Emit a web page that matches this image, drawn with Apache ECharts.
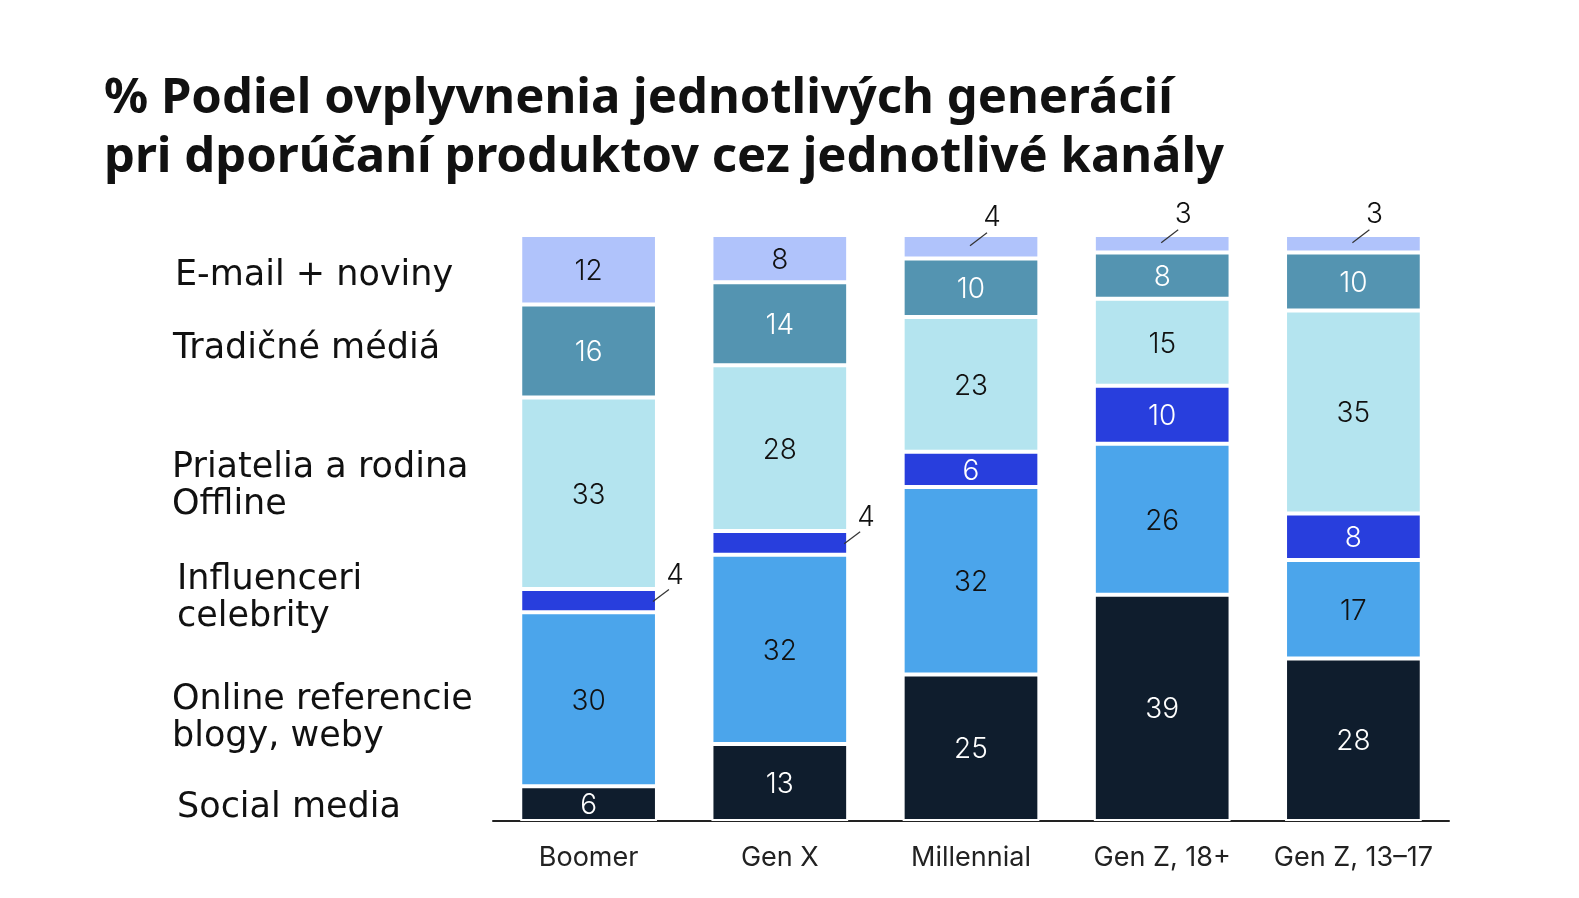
<!DOCTYPE html>
<html>
<head>
<meta charset="utf-8">
<script src="https://cdn.jsdelivr.net/npm/echarts@6/dist/echarts.min.js"></script>
<style>
html,body{margin:0;padding:0;background:#fff;}
#chart{width:1579px;height:898px;}
</style>
</head>
<body>
<div id="chart"></div>
<script>
// ---- Data ----
const categories = ['Boomer', 'Gen X', 'Millennial', 'Gen Z, 18+', 'Gen Z, 13\u201317'];
const channelNames = ['Social media', 'Online referencie', 'Influenceri', 'Priatelia a rodina', 'Tradičné médiá', 'E-mail + noviny'];
const socialMedia   = [6, 13, 25, 39, 28];
const onlineRef     = [30, 32, 32, 26, 17];
const influenceri   = [4, 4, 6, 10, 8];
const priatelia     = [33, 28, 23, 15, 35];
const tradicne      = [16, 14, 10, 8, 10];
const emailNoviny   = [12, 8, 4, 3, 3];
const legendLabels  = ['E-mail + noviny', 'Tradičné médiá', 'Priatelia a rodina\nOffline', 'Influenceri\ncelebrity', 'Online referencie\nblogy, weby', 'Social media'];
const titleText = '% Podiel ovplyvnenia jednotlivých generácií\npri dporúčaní produktov cez jednotlivé kanály';

const seriesValues = [socialMedia, onlineRef, influenceri, priatelia, tradicne, emailNoviny];
const colors = ['#0f1d2d', '#4ba5eb', '#283edd', '#b4e4ef', '#5494b1', '#b0c3fb'];
const labelColors = ['#ffffff', '#111111', '#ffffff', '#111111', '#ffffff', '#111111'];

// totals per category (bars are drawn as 100% stacks)
const totals = categories.map((c, i) => seriesValues.reduce((s, arr) => s + arr[i], 0));
const normalized = seriesValues.map(arr => arr.map((v, i) => v * 100 / totals[i]));

// small segments get an outside annotation
const SMALL = 5;
const annotations = [];
seriesValues.forEach((arr, si) => {
  arr.forEach((v, ci) => {
    if (v < SMALL) {
      let lo = 0;
      for (let k = 0; k < si; k++) lo += normalized[k][ci];
      const hi = lo + normalized[si][ci];
      annotations.push([ci, lo, hi, v, si === seriesValues.length - 1 ? 1 : 0]);
    }
  });
});

const numFont = 'Inter, "Liberation Sans", sans-serif';
const BAR_FRAC = 0.715;

const series = seriesValues.map((arr, si) => ({
  name: channelNames[si],
  type: 'bar',
  stack: 'total',
  barWidth: (BAR_FRAC * 100) + '%',
  data: normalized[si],
  itemStyle: { color: colors[si], borderColor: '#ffffff', borderWidth: 2 },
  label: {
    show: true,
    position: 'inside',
    offset: [0, 2],
    color: labelColors[si],
    fontFamily: numFont,
    fontWeight: 300,
    fontSize: 28,
    formatter: p => (arr[p.dataIndex] < SMALL ? '' : String(arr[p.dataIndex]))
  },
  emphasis: { disabled: true },
  silent: true
}));

series.push({
  type: 'custom',
  silent: true,
  z: 10,
  data: annotations,
  encode: { x: 0, y: [1, 2] },
  renderItem: function (params, api) {
    const ci = api.value(0), lo = api.value(1), hi = api.value(2), v = api.value(3), kind = api.value(4);
    const pLo = api.coord([ci, lo]);
    const pHi = api.coord([ci, hi]);
    const cx = pLo[0];
    const mid = (pLo[1] + pHi[1]) / 2;
    const half = api.size([1, 0])[0] * BAR_FRAC / 2;
    let ax, ay, bx, by, tx, ty;
    if (kind === 1) {
      ax = cx - 1; ay = mid - 1; bx = cx + 16; by = mid - 14; tx = cx + 21; ty = mid - 29;
    } else {
      ax = cx + half - 4; ay = mid + 1; bx = cx + half + 12; by = mid - 11; tx = cx + half + 18; ty = mid - 25;
    }
    return {
      type: 'group',
      children: [
        { type: 'line', shape: { x1: ax, y1: ay, x2: bx, y2: by }, style: { stroke: '#333', lineWidth: 1.2 } },
        { type: 'text', style: { text: String(v), x: tx, y: ty, align: 'center', verticalAlign: 'middle',
          fontFamily: numFont, fontWeight: 300, fontSize: 28, fill: '#111' } }
      ]
    };
  }
});

const legendY = [276, 349, 486, 598, 718, 808];
const legendX = [175, 173, 172, 177, 172, 177];
const graphics = legendLabels.map((t, i) => ({
  type: 'text',
  left: legendX[i],
  top: legendY[i] - (t.indexOf('\n') >= 0 ? 37 : 19),
  style: {
    text: t,
    fontFamily: '"DejaVu Sans", sans-serif',
    fontSize: 35,
    lineHeight: 37,
    fill: '#111'
  },
  silent: true
}));

const chart = echarts.init(document.getElementById('chart'));
chart.setOption({
  backgroundColor: '#ffffff',
  animation: false,
  title: {
    text: titleText,
    left: 104,
    top: 70,
    padding: 0,
    textStyle: {
      fontFamily: '"Noto Sans", sans-serif',
      fontWeight: 700,
      fontSize: 49,
      lineHeight: 59,
      color: '#111'
    }
  },
  grid: { left: 493, right: 130, top: 235, bottom: 77, containLabel: false },
  xAxis: {
    type: 'category',
    data: categories,
    axisTick: { show: false },
    axisLine: { lineStyle: { color: '#222', width: 2 } },
    axisLabel: { color: '#222', fontFamily: numFont, fontSize: 27, margin: 23, interval: 0, hideOverlap: false }
  },
  yAxis: {
    type: 'value',
    min: 0,
    max: 100,
    show: false,
    splitLine: { show: false }
  },
  graphic: graphics,
  series: series
});
</script>
</body>
</html>
